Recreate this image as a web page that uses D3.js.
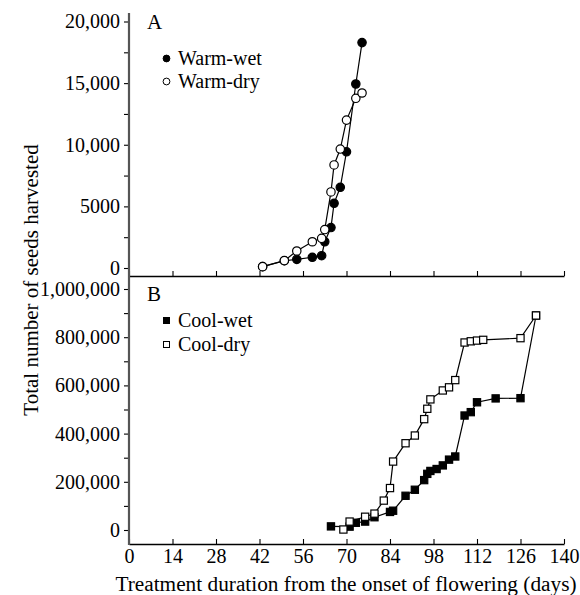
<!DOCTYPE html>
<html>
<head>
<meta charset="utf-8">
<script src="https://cdn.jsdelivr.net/npm/d3@7"></script>
<style>
  body { margin: 0; background: #fff; }
  text { font-family: "Liberation Serif", "Times New Roman", serif; fill: #000; }
</style>
</head>
<body>
<main></main>
<script>
// x axis (days)
const dayTicks = [0, 14, 28, 42, 56, 70, 84, 98, 112, 126, 140];

// panel A
const warmWetDays = [43, 50, 54, 59, 62, 63, 65, 66, 68, 70, 73, 75];
const warmWet = [110, 590, 700, 870, 1000, 2130, 3280, 5250, 6550, 9430, 14930, 18290];
const warmDryDays = [43, 50, 54, 59, 62, 63, 65, 66, 68, 70, 73, 75];
const warmDry = [110, 600, 1380, 2130, 2410, 3120, 6170, 8360, 9650, 12000, 13770, 14200];
const ticksA = [0, 5000, 10000, 15000, 20000];

// panel B
const coolWetDays = [65, 71, 73, 76, 79, 84, 85, 89, 92, 95, 96, 97, 99, 101, 103, 105, 108, 110, 112, 118, 126, 131];
const coolWet = [15000, 14000, 30000, 35000, 53000, 75000, 80000, 142000, 167000, 207000, 233000, 245000, 253000, 268000, 292000, 305000, 475000, 489000, 530000, 546000, 547000, 890000];
const coolDryDays = [69, 71, 76, 79, 82, 84, 85, 89, 92, 95, 96, 97, 101, 103, 105, 108, 110, 112, 114, 126, 131];
const coolDry = [2000, 35000, 55000, 68000, 122000, 174000, 284000, 360000, 392000, 460000, 503000, 542000, 579000, 592000, 622000, 778000, 783000, 786000, 789000, 796000, 890000];
const ticksB = [0, 200000, 400000, 600000, 800000, 1000000];

const width = 580;
const height = 595;

let svg = d3.select('main')
  .append('svg')
  .attr('width', width)
  .attr('height', height);

const x = d3.scaleLinear().domain([0, 140]).range([129, 564]);
const yA = d3.scaleLinear().domain([0, 20000]).range([268, 21.5]);
const yB = d3.scaleLinear().domain([0, 1000000]).range([530, 289]);

const fmt = function (v) {
  return v >= 10000 ? d3.format(',')(v) : String(v);
};

/**
 * left axis for one panel, major ticks with labels and unlabelled minor ticks
 */
function draw_yaxis(scale, ticks, step) {
  const top = scale.domain()[1];
  svg.append('g')
    .attr('transform', 'translate(129,0)')
    .call(d3.axisLeft(scale).tickValues(d3.range(step / 2, top, step)).tickSize(5).tickFormat(''))
    .call(function (g) { g.select('.domain').remove(); });

  svg.append('g')
    .attr('transform', 'translate(129,0)')
    .call(d3.axisLeft(scale).tickValues(ticks).tickSize(5).tickPadding(4).tickFormat(fmt))
    .call(function (g) { g.select('.domain').remove(); });
}

/**
 * bottom axis of a panel, ticks point up into the plot
 */
function draw_xaxis(y0, labels) {
  let g = svg.append('g')
    .attr('transform', 'translate(0,' + y0 + ')')
    .call(d3.axisBottom(x).tickValues(dayTicks).tickSizeInner(-5).tickSizeOuter(0).tickPadding(5)
      .tickFormat(labels ? d3.format('d') : ''));
  g.select('.domain').attr('stroke-width', 1.5);
}

draw_xaxis(276, false);
draw_xaxis(544, true);
draw_yaxis(yA, ticksA, 5000);
draw_yaxis(yB, ticksB, 200000);

svg.selectAll('.tick line').attr('stroke', '#000').attr('stroke-width', 1.1);
svg.selectAll('.tick text').attr('font-size', 20).attr('font-family', '"Liberation Serif", serif');

// continuous left spine
svg.append('line')
  .attr('x1', 129).attr('x2', 129)
  .attr('y1', 13).attr('y2', 545)
  .attr('stroke', '#555')
  .attr('stroke-width', 2.2);

/**
 * one series line, returns the pixel points for the markers
 */
function draw_series(days, values, yscale) {
  const pts = days.map(function (d, i) { return [x(d), yscale(values[i])]; });

  svg.append('path')
    .datum(pts)
    .attr('fill', 'none')
    .attr('stroke', '#000')
    .attr('stroke-width', 1.2)
    .attr('d', d3.line());

  return pts;
}

function draw_markers(pts, shape, filled) {
  let m;
  if (shape === 'circle') {
    m = svg.append('g').selectAll('circle')
      .data(pts)
      .enter()
      .append('circle')
      .attr('cx', function (d) { return d[0]; })
      .attr('cy', function (d) { return d[1]; })
      .attr('r', 4.2);
  } else {
    m = svg.append('g').selectAll('rect')
      .data(pts)
      .enter()
      .append('rect')
      .attr('x', function (d) { return d[0] - 3.6; })
      .attr('y', function (d) { return d[1] - 3.6; })
      .attr('width', 7.2)
      .attr('height', 7.2);
  }
  m.attr('fill', filled ? '#000' : '#fff')
    .attr('stroke', '#000')
    .attr('stroke-width', 1.2);
}

const pWW = draw_series(warmWetDays, warmWet, yA);
const pWD = draw_series(warmDryDays, warmDry, yA);
const pCW = draw_series(coolWetDays, coolWet, yB);
const pCD = draw_series(coolDryDays, coolDry, yB);
draw_markers(pWW, 'circle', true);
draw_markers(pWD, 'circle', false);
draw_markers(pCW, 'square', true);
draw_markers(pCD, 'square', false);

// panel letters and legends
svg.append('text').attr('x', 147).attr('y', 29).attr('font-size', 21).text('A');
svg.append('text').attr('x', 147).attr('y', 301).attr('font-size', 21).text('B');

const legend = [
  { y: 58.5, label: 'Warm-wet', shape: 'circle', filled: true },
  { y: 81.5, label: 'Warm-dry', shape: 'circle', filled: false },
  { y: 320.5, label: 'Cool-wet', shape: 'square', filled: true },
  { y: 344.5, label: 'Cool-dry', shape: 'square', filled: false }
];

legend.forEach(function (d) {
  let mark;
  if (d.shape === 'circle') {
    mark = svg.append('circle').attr('cx', 166.5).attr('cy', d.y).attr('r', 3.4);
  } else {
    mark = svg.append('rect').attr('x', 163.5).attr('y', d.y - 3).attr('width', 6).attr('height', 6);
  }
  mark.attr('fill', d.filled ? '#000' : '#fff')
    .attr('stroke', '#000')
    .attr('stroke-width', 1);
  svg.append('text')
    .attr('x', 178)
    .attr('y', d.y + 6.5)
    .attr('font-size', 20)
    .text(d.label);
});

// axis titles
svg.append('text')
  .attr('transform', 'translate(38,280) rotate(-90)')
  .attr('text-anchor', 'middle')
  .attr('font-size', 21)
  .text('Total number of seeds harvested');

svg.append('text')
  .attr('x', 346)
  .attr('y', 591)
  .attr('text-anchor', 'middle')
  .attr('font-size', 21.3)
  .text('Treatment duration from the onset of flowering (days)');
</script>
</body>
</html>
